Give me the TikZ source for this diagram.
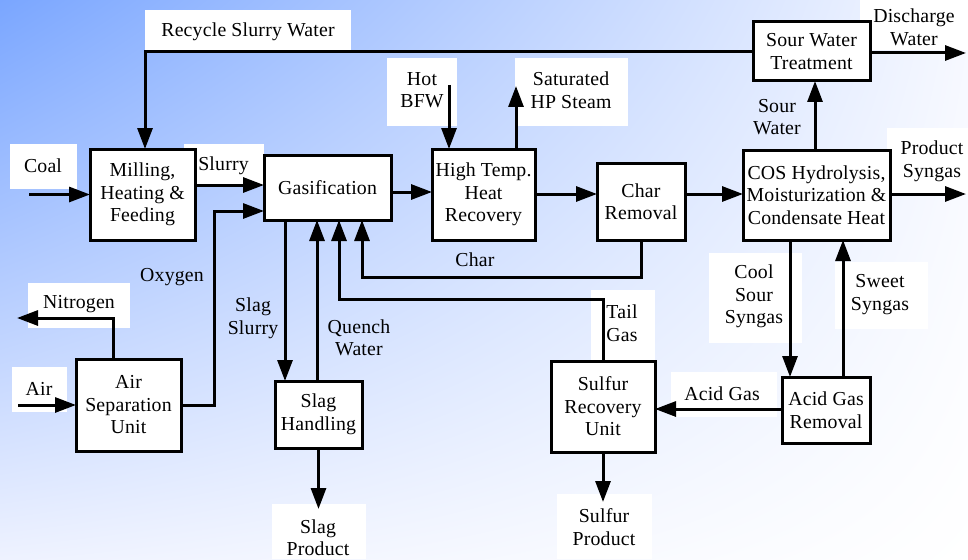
\documentclass[tikz,border=0pt]{standalone}
\usepackage{fontspec}
\setmainfont{Liberation Serif}[LetterSpace=1]
\usetikzlibrary{arrows.meta,shadings}
\definecolor{bgblue}{RGB}{122,166,255}
\definecolor{bgtr}{RGB}{246,248,255}
\definecolor{bgbl}{RGB}{238,242,255}
\begin{document}
\begin{tikzpicture}[x=1pt,y=-1pt,
  font=\rmfamily\fontsize{19.8}{22.5}\selectfont,
  unit/.style={draw, fill=white, line width=3pt, inner sep=0pt, outer sep=0pt, align=center},
  flow/.style={line width=3pt, -{Triangle[length=21pt,width=15pt]}},
  tag/.style={align=center, inner sep=0pt},
  tagbg/.style={fill=white, draw=none}]

% background
\shade[upper left=bgblue, upper right=bgtr, lower left=bgbl, lower right=white]
  (0,0) rectangle (968,559);
\useasboundingbox (0,0) rectangle (968,559);

% white panels behind stream labels
\fill[tagbg] (145,10) rectangle (351,53);
\fill[tagbg] (10,144) rectangle (77,189);
\fill[tagbg] (184,144) rectangle (264,185);
\fill[tagbg] (387,58) rectangle (457,126);
\fill[tagbg] (515,58) rectangle (628,126);
\fill[tagbg] (860,0) rectangle (968,50);
\fill[tagbg] (887,128) rectangle (968,194);
\fill[tagbg] (28,283) rectangle (130,328);
\fill[tagbg] (12,367) rectangle (67,412);
\fill[tagbg] (272,504) rectangle (366,559);
\fill[tagbg] (591,290) rectangle (655,360);
\fill[tagbg] (557,494) rectangle (652,559);
\fill[tagbg] (671,372) rectangle (777,417);
\fill[tagbg] (709,253) rectangle (802,343);
\fill[tagbg] (835,262) rectangle (928,329);

% process units
\node[unit, minimum width=105pt, minimum height=91pt] (mill) at (142.5,194.5) {Milling,\\Heating \&\\Feeding};
\node[unit, minimum width=127pt, minimum height=65pt] (gas) at (327.5,187.5) {Gasification};
\node[unit, minimum width=103pt, minimum height=91pt] (ht) at (483.5,194.5) {High Temp.\\Heat\\Recovery};
\node[unit, minimum width=88pt, minimum height=77pt] (char) at (641,201.5) {Char\\Removal};
\node[unit, minimum width=147pt, minimum height=90pt] (cos) at (816.5,195) {COS Hydrolysis,\\Moisturization \&\\Condensate Heat};
\node[unit, minimum width=117pt, minimum height=59pt] (swt) at (811.5,51.5) {Sour Water\\Treatment};
\node[unit, minimum width=105pt, minimum height=92pt] (asu) at (128.5,405) {Air\\Separation\\Unit};
\node[unit, minimum width=87pt, minimum height=67pt] (slag) at (318.5,414.5) {Slag\\Handling};
\node[unit, minimum width=104pt, minimum height=91pt] (sru) at (603,406.5) {Sulfur\\Recovery\\Unit};
\node[unit, minimum width=88pt, minimum height=66pt] (agr) at (826,410) {Acid Gas\\Removal};

% free ends of streams
\coordinate (coalin) at (29,194.5);
\coordinate (airin) at (18,405);
\coordinate (n2out) at (17,318);
\coordinate (oxbend) at (214,211);
\coordinate (bfwin) at (449,85);
\coordinate (steamout) at (516,86);
\coordinate (dischout) at (966,53);
\coordinate (synout) at (966,194);
\coordinate (charbend) at (362,277);
\coordinate (tailbend) at (339,299);
\coordinate (slagout) at (318.5,509);
\coordinate (sulfout) at (603,502);

% streams
\draw[flow] (coalin) -- (mill.west);
\draw[flow] (mill.east |- 0,185) -- (gas.west |- 0,185);
\draw[flow] (asu.east) -| (oxbend) -- (gas.west |- oxbend);
\draw[flow] (swt.west) -| ([xshift=2.5pt]mill.north);
\draw[flow] (bfwin) -- (bfwin |- ht.north);
\draw[flow] (ht.north -| steamout) -- (steamout);
\draw[flow] (gas.east |- 0,192) -- (ht.west |- 0,192);
\draw[flow] (ht.east |- 0,194) -- (char.west |- 0,194);
\draw[flow] (char.east |- 0,194) -- (cos.west |- 0,194);
\draw[flow] (cos.east |- synout) -- (synout);
\draw[flow] (cos.north -| 815,0) -- (swt.south -| 815,0);
\draw[flow] (swt.east |- dischout) -- (dischout);
\draw[flow] (char.south) |- (charbend) -- (gas.south -| charbend);
\draw[flow] (sru.north) |- (tailbend) -- (gas.south -| tailbend);
\draw[flow] (gas.south -| 285,0) -- (slag.north -| 285,0);
\draw[flow] (slag.north -| 317,0) -- (gas.south -| 317,0);
\draw[flow] (slag.south) -- (slagout);
\draw[flow] (sru.south) -- (sulfout);
\draw[flow] (agr.west |- 0,409) -- (sru.east |- 0,409);
\draw[flow] (cos.south -| 790,0) -- (agr.north -| 790,0);
\draw[flow] (agr.north -| 843,0) -- (cos.south -| 843,0);
\draw[flow] (asu.north -| 113,0) |- (n2out);
\draw[flow] (airin) -- (asu.west);

% stream labels
\node[tag] (lrecycle) at (248,32) {Recycle Slurry Water};
\node[tag] (lcoal) at (43,166) {Coal};
\node[tag] (lslurry) at (223.5,166) {Slurry};
\node[tag] (lbfw) at (422,90) {Hot\\BFW};
\node[tag] (lsteam) at (571,90) {Saturated\\HP Steam};
\node[tag] (ldisch) at (914,27.5) {Discharge\\Water};
\node[tag] (lsour) at (777,117) {Sour\\Water};
\node[tag] (lsyn) at (932,161.5) {Product\\Syngas};
\node[tag] (lchar) at (475,260) {Char};
\node[tag] (loxy) at (172,277) {Oxygen};
\node[tag] (lnit) at (79,304) {Nitrogen};
\node[tag] (lair) at (39,389) {Air};
\node[tag] (lslurry2) at (253,318.5) {Slag\\Slurry};
\node[tag] (lquench) at (359,338) {Quench\\Water};
\node[tag] (lslagp) at (318,537.5) {Slag\\Product};
\node[tag] (ltail) at (622,323) {Tail\\Gas};
\node[tag] (lsulfp) at (604,527) {Sulfur\\Product};
\node[tag] (lacid) at (722,394) {Acid Gas};
\node[tag] (lcool) at (754,296.5) {Cool\\Sour\\Syngas};
\node[tag] (lsweet) at (880,294.5) {Sweet\\Syngas};
\end{tikzpicture}
\end{document}
